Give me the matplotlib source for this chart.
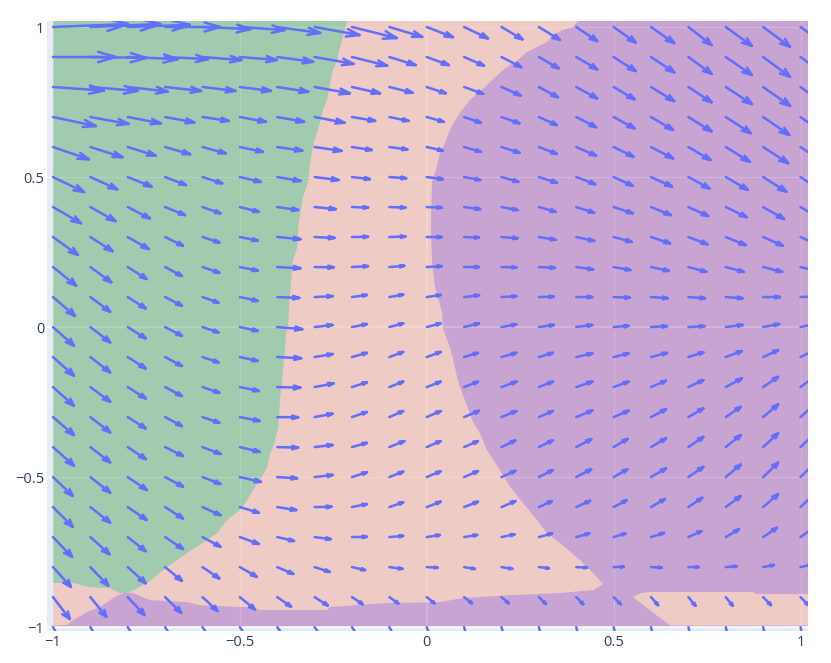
import numpy as np
import matplotlib
matplotlib.use("Agg")
import matplotlib.pyplot as plt

# grid of arrow starting points
xs = [-1.0, -0.9, -0.8, -0.7, -0.6, -0.5, -0.4, -0.3, -0.2, -0.1, 0.0,
      0.1, 0.2, 0.3, 0.4, 0.5, 0.6, 0.7, 0.8, 0.9, 1.0]
ys = [1.0, 0.9, 0.8, 0.7, 0.6, 0.5, 0.4, 0.3, 0.2, 0.1, 0.0,
      -0.1, -0.2, -0.3, -0.4, -0.5, -0.6, -0.7, -0.8, -0.9, -1.0]

# vector field, one row per y (top to bottom), one value per x
u_rows = [
    [2.01, 1.87, 1.66, 1.47, 1.28, 1.20, 1.15, 1.20, 1.20, 0.88, 0.70, 0.64, 0.56, 0.56, 0.56, 0.59, 0.62, 0.62, 0.70, 0.72, 0.75],
    [1.68, 1.50, 1.34, 1.15, 1.04, 0.99, 0.96, 1.04, 0.94, 0.70, 0.59, 0.53, 0.53, 0.53, 0.56, 0.59, 0.62, 0.62, 0.70, 0.72, 0.75],
    [1.36, 1.26, 1.07, 0.96, 0.88, 0.83, 0.83, 0.94, 0.75, 0.62, 0.51, 0.51, 0.51, 0.51, 0.56, 0.56, 0.62, 0.62, 0.70, 0.72, 0.75],
    [1.15, 1.02, 0.88, 0.78, 0.70, 0.70, 0.72, 0.80, 0.62, 0.51, 0.45, 0.45, 0.48, 0.48, 0.53, 0.56, 0.59, 0.62, 0.67, 0.70, 0.72],
    [0.96, 0.86, 0.75, 0.67, 0.62, 0.62, 0.67, 0.72, 0.53, 0.48, 0.43, 0.45, 0.48, 0.48, 0.53, 0.53, 0.59, 0.59, 0.64, 0.67, 0.70],
    [0.83, 0.72, 0.64, 0.56, 0.53, 0.56, 0.62, 0.64, 0.48, 0.45, 0.43, 0.43, 0.45, 0.48, 0.51, 0.51, 0.56, 0.56, 0.59, 0.62, 0.64],
    [0.75, 0.67, 0.59, 0.53, 0.48, 0.51, 0.56, 0.56, 0.43, 0.43, 0.40, 0.43, 0.43, 0.45, 0.48, 0.51, 0.53, 0.53, 0.56, 0.56, 0.59],
    [0.67, 0.59, 0.56, 0.48, 0.45, 0.48, 0.62, 0.53, 0.43, 0.43, 0.40, 0.40, 0.43, 0.45, 0.48, 0.48, 0.51, 0.51, 0.53, 0.53, 0.53],
    [0.62, 0.56, 0.51, 0.45, 0.45, 0.48, 0.62, 0.51, 0.43, 0.40, 0.40, 0.40, 0.40, 0.43, 0.45, 0.45, 0.48, 0.48, 0.48, 0.51, 0.51],
    [0.59, 0.53, 0.48, 0.45, 0.43, 0.48, 0.59, 0.48, 0.40, 0.37, 0.37, 0.40, 0.40, 0.40, 0.43, 0.43, 0.45, 0.45, 0.45, 0.45, 0.45],
    [0.56, 0.53, 0.48, 0.45, 0.43, 0.48, 0.67, 0.48, 0.40, 0.37, 0.37, 0.40, 0.40, 0.40, 0.43, 0.40, 0.43, 0.43, 0.45, 0.43, 0.43],
    [0.56, 0.53, 0.48, 0.45, 0.43, 0.48, 0.64, 0.48, 0.40, 0.37, 0.37, 0.37, 0.40, 0.37, 0.43, 0.40, 0.43, 0.40, 0.43, 0.40, 0.40],
    [0.56, 0.53, 0.48, 0.45, 0.45, 0.51, 0.62, 0.51, 0.40, 0.37, 0.37, 0.37, 0.40, 0.37, 0.43, 0.40, 0.40, 0.40, 0.43, 0.40, 0.40],
    [0.56, 0.53, 0.48, 0.45, 0.45, 0.53, 0.56, 0.48, 0.40, 0.37, 0.37, 0.40, 0.40, 0.37, 0.43, 0.40, 0.40, 0.40, 0.40, 0.40, 0.40],
    [0.56, 0.53, 0.48, 0.48, 0.48, 0.53, 0.56, 0.48, 0.40, 0.40, 0.37, 0.37, 0.37, 0.37, 0.40, 0.37, 0.40, 0.40, 0.40, 0.40, 0.40],
    [0.53, 0.53, 0.51, 0.48, 0.48, 0.56, 0.53, 0.48, 0.40, 0.37, 0.37, 0.37, 0.37, 0.37, 0.40, 0.37, 0.40, 0.40, 0.40, 0.40, 0.40],
    [0.53, 0.53, 0.51, 0.48, 0.48, 0.51, 0.51, 0.45, 0.40, 0.37, 0.37, 0.37, 0.37, 0.35, 0.37, 0.35, 0.37, 0.37, 0.40, 0.40, 0.40],
    [0.51, 0.51, 0.48, 0.48, 0.48, 0.51, 0.45, 0.43, 0.40, 0.37, 0.35, 0.35, 0.35, 0.35, 0.35, 0.32, 0.35, 0.35, 0.35, 0.37, 0.37],
    [0.48, 0.48, 0.48, 0.45, 0.45, 0.45, 0.43, 0.40, 0.35, 0.35, 0.29, 0.29, 0.29, 0.27, 0.29, 0.27, 0.29, 0.27, 0.29, 0.29, 0.29],
    [0.45, 0.43, 0.45, 0.43, 0.40, 0.40, 0.37, 0.35, 0.29, 0.24, 0.21, 0.21, 0.19, 0.19, 0.19, 0.19, 0.19, 0.19, 0.19, 0.21, 0.21],
    [0.37, 0.35, 0.35, 0.32, 0.32, 0.29, 0.27, 0.24, 0.21, 0.16, 0.11, 0.08, 0.08, 0.08, 0.08, 0.08, 0.08, 0.08, 0.08, 0.08, 0.08],
]
v_rows = [
    [0.10, 0.10, 0.07, 0.00, -0.07, -0.10, -0.20, -0.27, -0.37, -0.33, -0.34, -0.38, -0.41, -0.43, -0.47, -0.52, -0.54, -0.60, -0.63, -0.66, -0.68],
    [0.00, -0.03, -0.07, -0.07, -0.10, -0.10, -0.16, -0.23, -0.29, -0.27, -0.27, -0.29, -0.34, -0.38, -0.41, -0.47, -0.51, -0.56, -0.60, -0.66, -0.68],
    [-0.12, -0.13, -0.15, -0.13, -0.13, -0.13, -0.16, -0.21, -0.21, -0.19, -0.21, -0.23, -0.28, -0.34, -0.38, -0.41, -0.47, -0.51, -0.57, -0.63, -0.67],
    [-0.30, -0.23, -0.21, -0.18, -0.13, -0.16, -0.16, -0.19, -0.13, -0.13, -0.16, -0.19, -0.21, -0.27, -0.34, -0.38, -0.43, -0.48, -0.54, -0.60, -0.63],
    [-0.41, -0.34, -0.29, -0.24, -0.21, -0.16, -0.12, -0.13, -0.10, -0.08, -0.12, -0.16, -0.19, -0.23, -0.29, -0.32, -0.38, -0.43, -0.49, -0.54, -0.58],
    [-0.50, -0.41, -0.32, -0.27, -0.21, -0.16, -0.13, -0.10, -0.07, -0.04, -0.07, -0.10, -0.16, -0.19, -0.24, -0.29, -0.32, -0.38, -0.43, -0.49, -0.53],
    [-0.54, -0.47, -0.38, -0.27, -0.21, -0.16, -0.10, -0.07, -0.02, -0.02, -0.02, -0.07, -0.10, -0.16, -0.19, -0.21, -0.27, -0.30, -0.34, -0.40, -0.43],
    [-0.60, -0.47, -0.40, -0.29, -0.18, -0.12, -0.07, -0.03, 0.01, 0.02, 0.00, -0.02, -0.04, -0.09, -0.13, -0.16, -0.21, -0.24, -0.27, -0.29, -0.30],
    [-0.62, -0.51, -0.40, -0.30, -0.19, -0.12, -0.04, -0.01, 0.03, 0.04, 0.03, 0.00, -0.01, -0.03, -0.08, -0.10, -0.13, -0.16, -0.16, -0.16, -0.16],
    [-0.63, -0.49, -0.38, -0.29, -0.19, -0.13, -0.03, 0.03, 0.07, 0.08, 0.07, 0.06, 0.03, 0.01, 0.00, -0.02, -0.04, -0.04, -0.04, 0.00, 0.02],
    [-0.62, -0.51, -0.38, -0.29, -0.18, -0.13, -0.07, 0.07, 0.10, 0.12, 0.12, 0.12, 0.09, 0.07, 0.07, 0.04, 0.03, 0.03, 0.07, 0.10, 0.12],
    [-0.62, -0.51, -0.38, -0.30, -0.18, -0.13, -0.04, 0.10, 0.14, 0.17, 0.17, 0.14, 0.14, 0.14, 0.12, 0.12, 0.14, 0.16, 0.20, 0.23, 0.25],
    [-0.62, -0.49, -0.38, -0.30, -0.19, -0.13, -0.02, 0.12, 0.16, 0.18, 0.18, 0.18, 0.18, 0.18, 0.18, 0.18, 0.21, 0.23, 0.29, 0.34, 0.37],
    [-0.60, -0.51, -0.38, -0.30, -0.19, -0.13, -0.01, 0.11, 0.17, 0.20, 0.20, 0.21, 0.20, 0.20, 0.22, 0.21, 0.26, 0.29, 0.34, 0.42, 0.45],
    [-0.62, -0.51, -0.40, -0.30, -0.23, -0.16, -0.02, 0.07, 0.14, 0.20, 0.20, 0.20, 0.22, 0.22, 0.26, 0.27, 0.29, 0.34, 0.40, 0.46, 0.48],
    [-0.63, -0.52, -0.43, -0.32, -0.23, -0.16, -0.04, 0.07, 0.16, 0.18, 0.19, 0.20, 0.21, 0.23, 0.26, 0.26, 0.29, 0.34, 0.42, 0.48, 0.50],
    [-0.66, -0.52, -0.43, -0.38, -0.27, -0.19, -0.10, 0.01, 0.10, 0.16, 0.18, 0.18, 0.20, 0.20, 0.21, 0.23, 0.27, 0.31, 0.37, 0.43, 0.47],
    [-0.66, -0.57, -0.47, -0.40, -0.32, -0.23, -0.13, -0.07, 0.01, 0.04, 0.07, 0.07, 0.09, 0.12, 0.12, 0.12, 0.14, 0.20, 0.26, 0.31, 0.33],
    [-0.66, -0.62, -0.54, -0.46, -0.38, -0.32, -0.23, -0.16, -0.10, -0.06, -0.02, -0.06, -0.06, -0.04, -0.02, 0.01, -0.02, 0.00, 0.03, 0.07, 0.08],
    [-0.73, -0.66, -0.60, -0.52, -0.46, -0.41, -0.32, -0.28, -0.24, -0.21, -0.21, -0.21, -0.21, -0.23, -0.24, -0.24, -0.27, -0.29, -0.29, -0.27, -0.27],
    [-0.80, -0.73, -0.70, -0.63, -0.57, -0.53, -0.47, -0.43, -0.40, -0.37, -0.37, -0.37, -0.37, -0.37, -0.37, -0.40, -0.43, -0.43, -0.43, -0.43, -0.43],
]

# class regions (boundaries)
green_x = [-1.0, -0.213, -0.232, -0.240, -0.253, -0.259, -0.267, -0.278, -0.286, -0.294,
           -0.304, -0.312, -0.318, -0.331, -0.339, -0.344, -0.347, -0.358, -0.366, -0.371,
           -0.377, -0.379, -0.387, -0.393, -0.398, -0.401, -0.411, -0.419, -0.427, -0.446,
           -0.460, -0.481, -0.500, -0.534, -0.561, -0.588, -0.641, -0.695, -0.748, -0.794,
           -0.821, -0.847, -0.901, -0.946, -1.0]
green_y = [1.02, 1.02, 0.933, 0.89, 0.85, 0.807, 0.757, 0.723, 0.68, 0.647,
           0.607, 0.547, 0.48, 0.433, 0.373, 0.33, 0.263, 0.223, 0.107, 0.007,
           -0.027, -0.07, -0.177, -0.25, -0.343, -0.353, -0.40, -0.42, -0.467, -0.51,
           -0.533, -0.577, -0.61, -0.643, -0.687, -0.71, -0.753, -0.80, -0.853, -0.883,
           -0.887, -0.87, -0.867, -0.853, -0.853]

pink_x = [-1.0, 0.405, 0.391, 0.365, 0.338, 0.322, 0.295, 0.268, 0.244, 0.204,
          0.175, 0.148, 0.116, 0.094, 0.076, 0.062, 0.049, 0.035, 0.027, 0.014,
          0.011, 0.014, 0.022, 0.030, 0.041, 0.043, 0.057, 0.068, 0.076, 0.084,
          0.097, 0.110, 0.124, 0.142, 0.161, 0.196, 0.223, 0.258, 0.295, 0.322,
          0.357, 0.410, 0.445, 0.472, 0.445, 0.348, 0.231, 0.097, 0.035, -0.106,
          -0.259, -0.267, -0.446, -0.465, -0.500, -0.607, -0.641, -0.740, -0.786, -0.807,
          -0.839, -0.874, -0.909, -0.946, -0.963, -1.0]
pink_y = [1.02, 1.02, 1.0, 0.99, 0.973, 0.95, 0.933, 0.917, 0.89, 0.857,
          0.823, 0.79, 0.757, 0.723, 0.69, 0.657, 0.613, 0.58, 0.533, 0.483,
          0.34, 0.217, 0.133, 0.097, 0.05, -0.003, -0.05, -0.093, -0.137, -0.183,
          -0.227, -0.27, -0.317, -0.353, -0.41, -0.477, -0.533, -0.587, -0.643, -0.687,
          -0.72, -0.777, -0.82, -0.857, -0.877, -0.887, -0.893, -0.903, -0.917, -0.92,
          -0.933, -0.943, -0.943, -0.933, -0.933, -0.927, -0.917, -0.91, -0.887, -0.883,
          -0.903, -0.933, -0.95, -0.977, -0.993, -0.995]

pink2_x = [0.552, 0.571, 0.597, 0.873, 0.884, 1.02, 1.02, 0.651]
pink2_y = [-0.90, -0.887, -0.883, -0.883, -0.89, -0.89, -0.995, -0.995]

purple_x = [-1.0, 1.02, 1.02, -1.0]
purple_y = [1.02, 1.02, -0.995, -0.995]

green_col = '#A1CBAE'
pink_col = '#EECBC4'
purple_col = '#C8A4D2'
arrow_col = '#636EFA'
font_col = '#2A3F5F'

plt.rcParams['font.family'] = ['Open Sans', 'DejaVu Sans']

fig = plt.figure(figsize=(8.31, 6.63), dpi=100)
ax = fig.add_axes([47 / 831, 32 / 663, 761 / 831, 610 / 663])
ax.set_facecolor('#E5ECF6')
for s in ax.spines.values():
    s.set_visible(False)

ticks = [-1, -0.5, 0, 0.5, 1]
labels = ['\u22121', '\u22120.5', '0', '0.5', '1']

# white grid underneath the filled regions
for t in ticks:
    lw = 1.5 if t == 0 else 0.8
    ax.axvline(t, color='white', lw=lw, zorder=0)
    ax.axhline(t, color='white', lw=lw, zorder=0)

ax.fill(purple_x, purple_y, color=purple_col, lw=0, zorder=1)
ax.fill(pink_x, pink_y, color=pink_col, lw=0, zorder=1.1)
ax.fill(green_x, green_y, color=green_col, lw=0, zorder=1.2)
ax.fill(pink2_x, pink2_y, color=pink_col, lw=0, zorder=1.2)

# faint grid showing through the fills
for t in ticks:
    lw = 1.5 if t == 0 else 0.8
    ax.axvline(t, color='white', lw=lw, alpha=0.18, zorder=2)
    ax.axhline(t, color='white', lw=lw, alpha=0.18, zorder=2)

# quiver arrows, built like plotly's create_quiver
scale = 0.1
arrow_scale = 0.3
angle = np.pi / 9
X, Y = np.meshgrid(xs, ys)
U = np.array(u_rows) * scale
V = np.array(v_rows) * scale
ex = X + U
ey = Y + V
barb = np.hypot(U, V) * arrow_scale
ang = np.arctan2(V, U)
p1x = ex - barb * np.cos(ang + angle)
p1y = ey - barb * np.sin(ang + angle)
p2x = ex - barb * np.cos(ang - angle)
p2y = ey - barb * np.sin(ang - angle)

lx, ly = [], []
for a, b, c, d in zip(X.ravel(), Y.ravel(), ex.ravel(), ey.ravel()):
    lx += [a, c, np.nan]
    ly += [b, d, np.nan]
for a, b, c, d, e, f in zip(p1x.ravel(), p1y.ravel(), ex.ravel(), ey.ravel(),
                            p2x.ravel(), p2y.ravel()):
    lx += [a, c, e, np.nan]
    ly += [b, d, f, np.nan]
ax.plot(lx, ly, color=arrow_col, lw=1.8, solid_capstyle='round',
        solid_joinstyle='round', zorder=3)

ax.set_xlim(-1.016, 1.02)
ax.set_ylim(-1.013, 1.02)
ax.set_xticks(ticks)
ax.set_xticklabels(labels)
ax.set_yticks(ticks)
ax.set_yticklabels(labels)
ax.tick_params(length=0, labelsize=10.5, labelcolor=font_col, pad=3)
ax.tick_params(axis='y', pad=2)

fig.savefig('out.png', dpi=100)
